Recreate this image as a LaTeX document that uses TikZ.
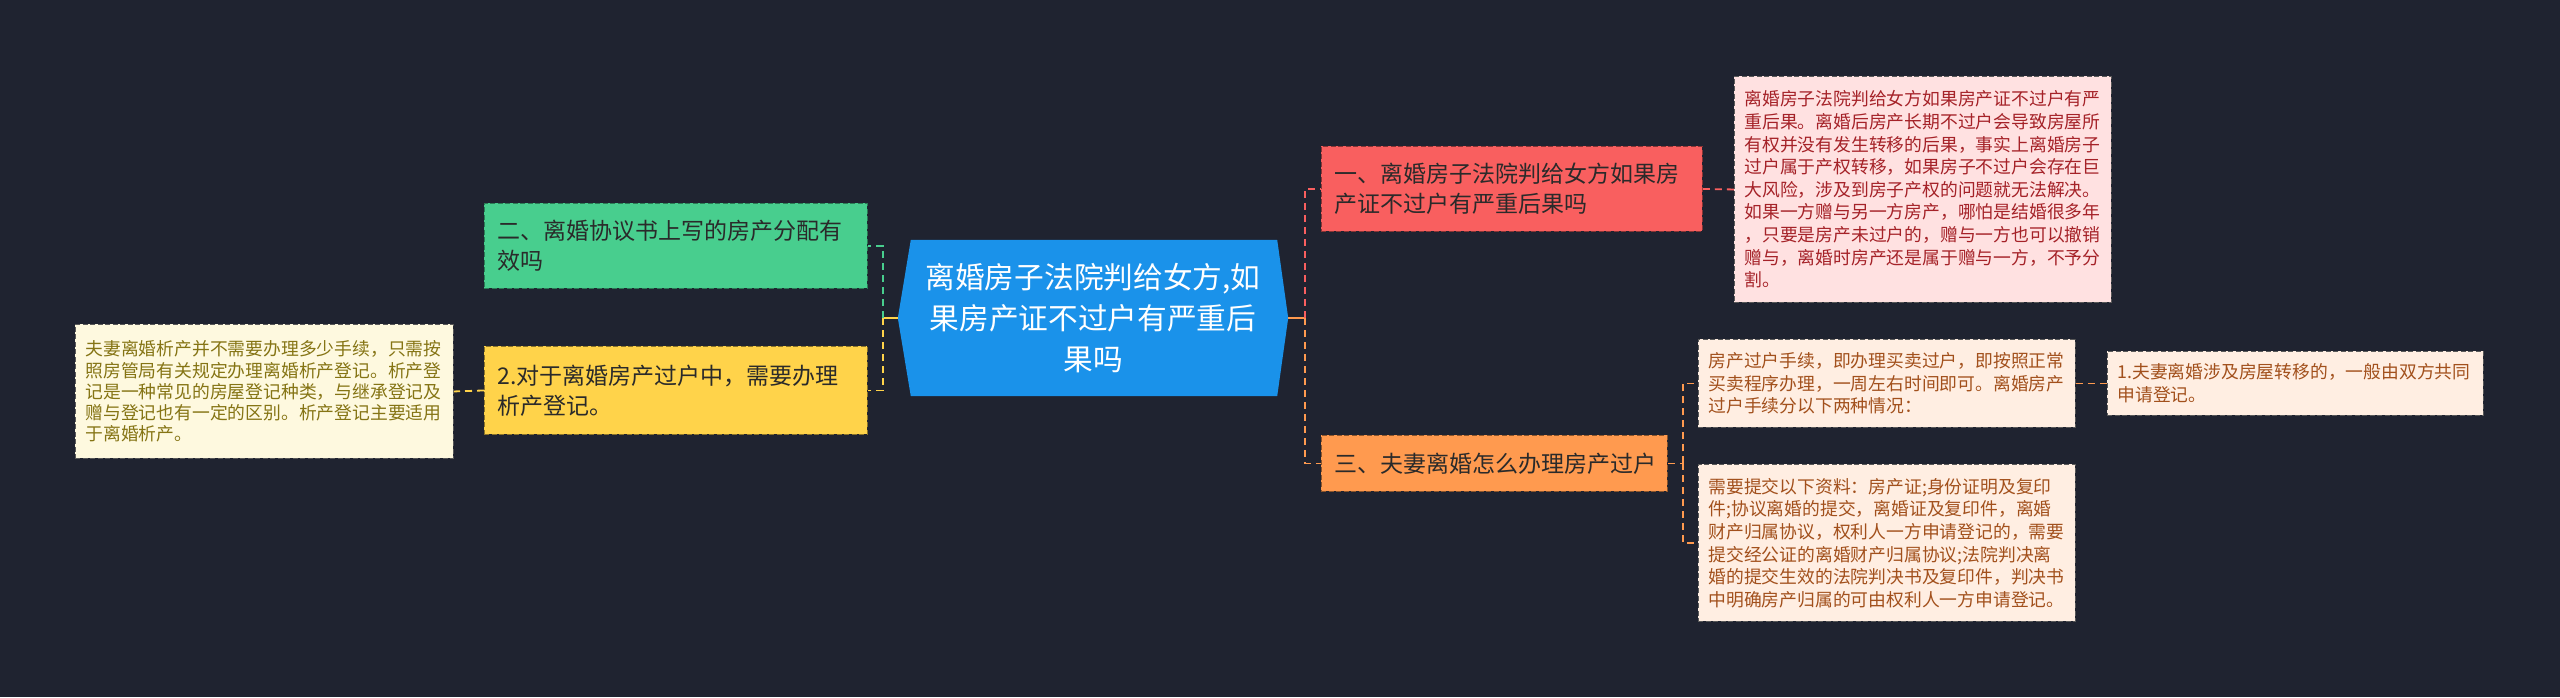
\documentclass[tikz,border=0pt]{standalone}
\usepackage{fontspec}
\newfontfamily\cjk{Noto Sans CJK SC}
\usetikzlibrary{calc}
\pgfdeclarelayer{bg}
\pgfsetlayers{bg,main}
\definecolor{bgc}{HTML}{1F2330}
\definecolor{bluec}{HTML}{1A92EA}
\definecolor{greenc}{HTML}{48CE8E}
\definecolor{yellowc}{HTML}{FFD34A}
\definecolor{redc}{HTML}{F95F5F}
\definecolor{orangec}{HTML}{FF9A4F}
\definecolor{ldfill}{HTML}{FEF9DF}
\definecolor{ldtext}{HTML}{857414}
\definecolor{rdfill}{HTML}{FFE1E1}
\definecolor{rdtext}{HTML}{A52228}
\definecolor{odfill}{HTML}{FFEEE2}
\definecolor{odtext}{HTML}{A2501C}
\definecolor{darktext}{HTML}{2A2A2A}
\tikzset{
  mainbox/.style={draw, dash pattern=on 5pt off 2.5pt, line width=0.9pt,
    inner xsep=13pt, inner ysep=0pt, anchor=north west, align=left,
    font=\cjk\fontsize{23}{30}\selectfont, text=darktext},
  detailbox/.style={mainbox, inner xsep=10pt, draw=black!65,
    font=\cjk\fontsize{17.8}{22.6}\selectfont},
  conn/.style={line width=1.8pt, dash pattern=on 7pt off 5pt},
  connsolid/.style={line width=1.8pt}
}
\begin{document}
\begin{tikzpicture}[x=1pt,y=-1pt]
\begin{pgfonlayer}{bg}
\fill[bgc] (0,0) rectangle (2560,697);
\end{pgfonlayer}
\useasboundingbox (0,0) rectangle (2560,697);

% center node
\node[font=\cjk\fontsize{29.7}{41}\selectfont, text=white, align=center,
  text width=352pt, minimum width=390pt, minimum height=156pt, inner sep=0pt]
  (c) at (1093,318) {离婚房子法院判给女方,如\\果房产证不过户有严重后\\果吗};
\begin{pgfonlayer}{bg}
\fill[bluec] ($(c.north west)+(13,0)$) -- ($(c.north east)+(-11,0)$) -- (c.east)
  -- ($(c.south east)+(-11,0)$) -- ($(c.south west)+(13,0)$) -- (c.west) -- cycle;
\end{pgfonlayer}

% left side
\node[mainbox, fill=greenc, draw=greenc!60!black, text width=357pt, minimum height=85pt]
  (g) at (484,203) {二、离婚协议书上写的房产分配有\\效吗};
\node[mainbox, fill=yellowc, draw=yellowc!55!black, text width=357pt, minimum height=88pt]
  (y) at (484,346) {2.对于离婚房产过户中，需要办理\\析产登记。};
\node[detailbox, fill=ldfill, text=ldtext, text width=358pt, minimum height=134pt,
  font=\cjk\fontsize{17.8}{21.2}\selectfont]
  (ld) at (75,324) {夫妻离婚析产并不需要办理多少手续，只需按\\照房管局有关规定办理离婚析产登记。析产登\\记是一种常见的房屋登记种类，与继承登记及\\赠与登记也有一定的区别。析产登记主要适用\\于离婚析产。};

% right side
\node[mainbox, fill=redc, draw=redc!55!black, text width=355pt, minimum height=85pt]
  (r) at (1321,146) {一、离婚房子法院判给女方如果房\\产证不过户有严重后果吗};
\node[mainbox, fill=orangec, draw=orangec!55!black, text width=320pt, minimum height=56pt]
  (o) at (1321,435) {三、夫妻离婚怎么办理房产过户};
\node[detailbox, fill=rdfill, text=rdtext, text width=357pt, minimum height=226pt]
  (rd) at (1734,76) {离婚房子法院判给女方如果房产证不过户有严\\重后果。离婚后房产长期不过户会导致房屋所\\有权并没有发生转移的后果，事实上离婚房子\\过户属于产权转移，如果房子不过户会存在巨\\大风险，涉及到房子产权的问题就无法解决。\\如果一方赠与另一方房产，哪怕是结婚很多年\\，只要是房产未过户的，赠与一方也可以撤销\\赠与，离婚时房产还是属于赠与一方，不予分\\割。};
\node[detailbox, fill=odfill, text=odtext, text width=357pt, minimum height=88pt]
  (d1) at (1698,339) {房产过户手续，即办理买卖过户，即按照正常\\买卖程序办理，一周左右时间即可。离婚房产\\过户手续分以下两种情况：};
\node[detailbox, fill=odfill, text=odtext, text width=356pt, minimum height=64pt]
  (d1a) at (2107,351) {1.夫妻离婚涉及房屋转移的，一般由双方共同\\申请登记。};
\node[detailbox, fill=odfill, text=odtext, text width=357pt, minimum height=157pt]
  (d2) at (1698,464) {需要提交以下资料：房产证;身份证明及复印\\件;协议离婚的提交，离婚证及复印件，离婚\\财产归属协议，权利人一方申请登记的，需要\\提交经公证的离婚财产归属协议;法院判决离\\婚的提交生效的法院判决书及复印件，判决书\\中明确房产归属的可由权利人一方申请登记。};

% connectors left
\coordinate (jl) at ($(c.west)+(-15,0)$);
\draw[connsolid, yellowc] (c.west) -- (jl);
\draw[conn, greenc] (jl) |- (g.east);
\draw[conn, yellowc] (jl) |- (y.east);
\draw[conn, yellowc] (y.west) -- (ld.east);

% connectors right
\coordinate (jr) at ($(c.east)+(17,0)$);
\draw[connsolid, orangec] (c.east) -- (jr);
\draw[conn, redc] (jr) |- (r.west);
\draw[conn, orangec] (jr) |- (o.west);
\draw[conn, redc] (r.east) -- (rd.west);
\coordinate (jo) at ($(o.east)+(15,0)$);
\draw[conn, orangec] (o.east) -- (jo);
\draw[conn, orangec] (jo) |- (d1.west);
\draw[conn, orangec] (jo) |- (d2.west);
\draw[conn, orangec] (d1.east) -- (d1a.west);
\end{tikzpicture}
\end{document}
